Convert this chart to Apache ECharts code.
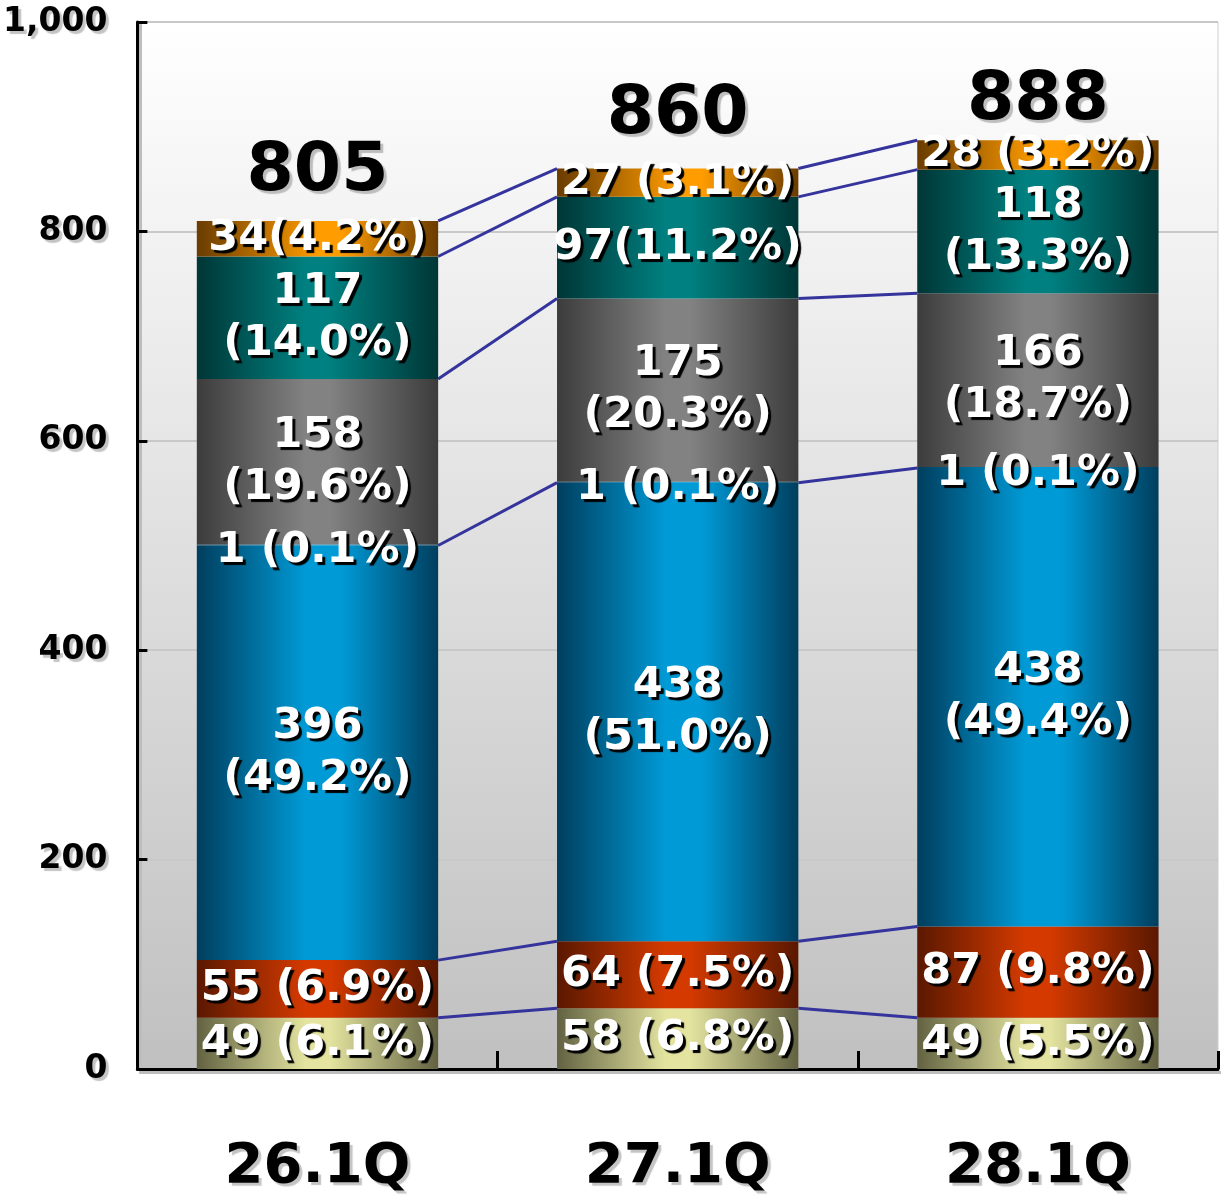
<!DOCTYPE html>
<html>
<head>
<meta charset="utf-8">
<title>stacked bars</title>
<script src="https://cdn.jsdelivr.net/npm/echarts@6/dist/echarts.min.js"></script>
<style>
  html, body { margin: 0; padding: 0; background: #fff; }
  #chart { width: 1221px; height: 1203px; }
</style>
</head>
<body>
<div id="chart"></div>
<script>
// categories + values (bottom -> top of each stack)
const categories = ['26.1Q', '27.1Q', '28.1Q']
const beigeValues = [49, 58, 49]
const redValues = [55, 64, 87]
const blueValues = [396, 438, 438]
const tinyValues = [1, 1, 1]
const grayValues = [158, 175, 166]
const tealValues = [117, 97, 118]
const orangeValues = [34, 27, 28]
const totals = [805, 860, 888]

// label texts as printed in the picture
const beigeLabels = ['49 (6.1%)', '58 (6.8%)', '49 (5.5%)']
const redLabels = ['55 (6.9%)', '64 (7.5%)', '87 (9.8%)']
const blueLabels = ['396\n(49.2%)', '438\n(51.0%)', '438\n(49.4%)']
const tinyLabels = ['1 (0.1%)', '1 (0.1%)', '1 (0.1%)']
const grayLabels = ['158\n(19.6%)', '175\n(20.3%)', '166\n(18.7%)']
const tealLabels = ['117\n(14.0%)', '97(11.2%)', '118\n(13.3%)']
const orangeLabels = ['34(4.2%)', '27 (3.1%)', '28 (3.2%)']

const yTicks = [0, 200, 400, 600, 800, 1000]

const FONT = '"DejaVu Sans", Verdana, sans-serif'
const BAR_RATIO = 0.67

// horizontal shading: dark edges, light band in the middle
function hGrad(edge, mid, from, to) {
  return {
    type: 'linear', x: 0, y: 0, x2: 1, y2: 0,
    colorStops: [
      { offset: 0, color: edge },
      { offset: from, color: mid },
      { offset: to, color: mid },
      { offset: 1, color: edge }
    ]
  }
}

const segLabel = {
  show: true,
  position: 'inside',
  color: '#fff',
  fontFamily: FONT,
  fontWeight: 'bold',
  fontSize: 43,
  lineHeight: 52,
  textShadowColor: '#000',
  textShadowOffsetX: 3,
  textShadowOffsetY: 3,
  textShadowBlur: 1
}

function barSeries(name, values, labels, color, extraLabel) {
  return {
    name: name,
    type: 'bar',
    stack: 'total',
    barWidth: (BAR_RATIO * 100) + '%',
    data: values,
    itemStyle: { color: color },
    label: Object.assign({}, segLabel, {
      formatter: p => labels[p.dataIndex]
    }, extraLabel || {}),
    z: 3
  }
}

const blueGrad = hGrad('#003e5e', '#009ad6', 0.45, 0.6)

const seriesList = [
  barSeries('beige', beigeValues, beigeLabels, hGrad('#626242', '#e4e4a0', 0.45, 0.55)),
  barSeries('red', redValues, redLabels, hGrad('#5a1800', '#d43a00', 0.45, 0.55)),
  barSeries('blue', blueValues, blueLabels, blueGrad),
  barSeries('tiny', tinyValues, tinyLabels, blueGrad, { offset: [0, 6] }),
  barSeries('gray', grayValues, grayLabels, hGrad('#3c3c3c', '#828282', 0.45, 0.55)),
  barSeries('teal', tealValues, tealLabels, hGrad('#003636', '#008080', 0.45, 0.55)),
  barSeries('orange', orangeValues, orangeLabels, hGrad('#6a3c00', '#ff9c00', 0.5, 0.6))
]

// cumulative tops for the connector lines
const stacks = [beigeValues, redValues, blueValues, tinyValues, grayValues, tealValues, orangeValues]
const cumulative = []
let running = [0, 0, 0]
stacks.forEach((vals, k) => {
  running = running.map((r, i) => r + vals[i])
  // the 1-unit segment shares its line with the blue top
  if (k !== 3) cumulative.push(running.slice())
})
const connectorData = []
cumulative.forEach(row => {
  for (let i = 0; i < categories.length - 1; i++) {
    connectorData.push([i, row[i], row[i + 1]])
  }
})

seriesList.push({
  name: 'connectors',
  type: 'custom',
  data: connectorData,
  z: 2,
  silent: true,
  renderItem: (params, api) => {
    const i = api.value(0)
    const p1 = api.coord([i, api.value(1)])
    const p2 = api.coord([i + 1, api.value(2)])
    const hw = api.size([1, 0])[0] * BAR_RATIO / 2
    return {
      type: 'line',
      shape: { x1: p1[0] + hw, y1: p1[1], x2: p2[0] - hw, y2: p2[1] },
      style: { stroke: '#34349c', lineWidth: 3 }
    }
  }
})

// totals above each bar (the last one sits closer to its bar)
const totalGaps = [20, 19, 4]
seriesList.push({
  name: 'total',
  type: 'scatter',
  data: totals.map((v, i) => ({ value: v, label: { distance: totalGaps[i] } })),
  symbolSize: 0,
  itemStyle: { opacity: 1 },
  z: 5,
  label: {
    show: true,
    position: 'top',
    formatter: p => totals[p.dataIndex],
    color: '#000',
    opacity: 1,
    fontFamily: FONT,
    fontWeight: 'bold',
    fontSize: 68,
    textShadowColor: '#bdbdbd',
    textShadowOffsetX: 3,
    textShadowOffsetY: 3,
    textShadowBlur: 1
  }
})

const chart = echarts.init(document.getElementById('chart'))
chart.setOption({
  backgroundColor: '#fff',
  animation: false,
  grid: {
    left: 136,
    right: 3,
    top: 22,
    bottom: 134,
    show: true,
    borderColor: '#cfcfcf',
    borderWidth: 1,
    backgroundColor: {
      type: 'linear', x: 0, y: 0, x2: 0, y2: 1,
      colorStops: [
        { offset: 0, color: '#ffffff' },
        { offset: 1, color: '#c0c0c0' }
      ]
    }
  },
  xAxis: {
    type: 'category',
    data: categories,
    axisLine: {
      lineStyle: {
        color: '#000', width: 3,
        shadowColor: '#bdbdbd', shadowOffsetX: 3, shadowOffsetY: 3
      }
    },
    axisTick: { show: true, inside: true, length: 18, lineStyle: { color: '#000', width: 3 } },
    axisLabel: {
      color: '#000',
      fontFamily: FONT,
      fontWeight: 'bold',
      fontSize: 56,
      margin: 70,
      textShadowColor: '#c4c4c4',
      textShadowOffsetX: 3,
      textShadowOffsetY: 3,
      textShadowBlur: 1
    }
  },
  yAxis: {
    type: 'value',
    min: yTicks[0],
    max: yTicks[yTicks.length - 1],
    interval: 200,
    axisLine: {
      show: true,
      lineStyle: {
        color: '#000', width: 3,
        shadowColor: '#bdbdbd', shadowOffsetX: 3, shadowOffsetY: 3
      }
    },
    axisTick: { show: true, inside: true, length: 10, lineStyle: { color: '#000', width: 3 } },
    splitLine: { show: true, lineStyle: { color: '#c8c8c8', width: 2 } },
    axisLabel: {
      color: '#000',
      fontFamily: FONT,
      fontWeight: 'bold',
      fontSize: 33,
      margin: 30,
      formatter: v => v.toLocaleString('en-US'),
      textShadowColor: '#c4c4c4',
      textShadowOffsetX: 3,
      textShadowOffsetY: 3,
      textShadowBlur: 1
    }
  },
  series: seriesList
})
</script>
</body>
</html>
